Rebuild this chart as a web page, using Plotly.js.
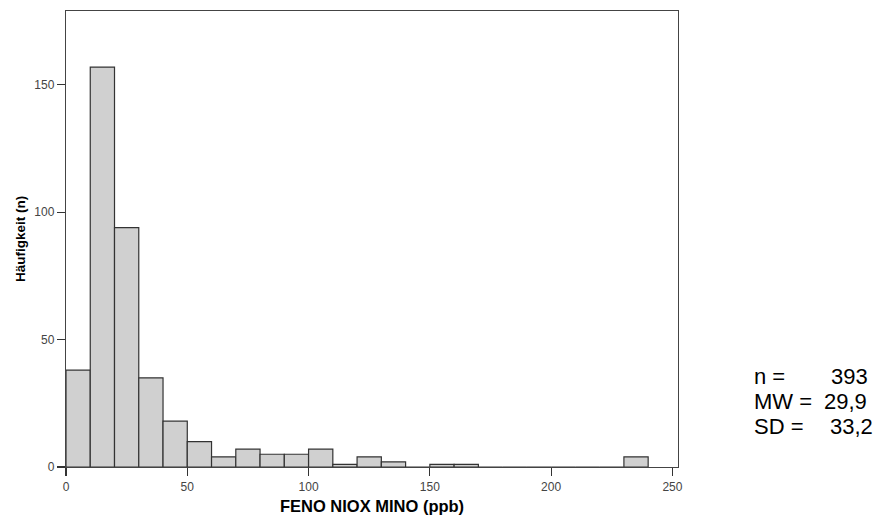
<!DOCTYPE html>
<html>
<head>
<meta charset="utf-8">
<script src="https://cdn.plot.ly/plotly-3.0.1.min.js"></script>
<style>html,body{margin:0;padding:0;background:#fff;}#chart{width:887px;height:519px;}</style>
</head>
<body>
<div id="chart"></div>
<script>
// Histogram bins (ppb), bin width 10
const binStarts = [0,10,20,30,40,50,60,70,80,90,100,110,120,130,140,150,160,170,180,190,200,210,220,230];
const counts    = [38,157,94,35,18,10,4,7,5,5,7,1,4,2,0,1,1,0,0,0,0,0,0,4];
const binWidth = 10;
const xTicks = [0,50,100,150,200,250];
const yTicks = [0,50,100,150];
const statLabels = ["n =", "MW =", "SD ="];
const statValues = ["393", "29,9", "33,2"];

const FONT = 'Liberation Sans, Arial, sans-serif';

const trace = {
  type: 'bar',
  x: binStarts,
  y: counts,
  width: binStarts.map(() => binWidth),
  offset: 0,
  marker: {color: '#d0d0d0', line: {color: '#333333', width: 1.2}},
  hoverinfo: 'x+y'
};

// stats block position (paper coords)
const statLabelX = 1.121;
const statValueX = [1.2467, 1.2353, 1.245];
const statTopY = 0.199;
const statStep = 0.0555;

const annotations = [];
statLabels.forEach((lab, i) => {
  annotations.push({
    xref: 'paper', yref: 'paper',
    x: statLabelX, y: statTopY - i*statStep,
    xanchor: 'left', yanchor: 'middle',
    text: lab, showarrow: false,
    font: {family: FONT, size: 22, color: '#000'}
  });
  annotations.push({
    xref: 'paper', yref: 'paper',
    x: statValueX[i], y: statTopY - i*statStep,
    xanchor: 'left', yanchor: 'middle',
    text: statValues[i], showarrow: false,
    font: {family: FONT, size: 22, color: '#000'}
  });
});

const layout = {
  width: 887, height: 519,
  margin: {l: 66, r: 209, t: 11, b: 52},
  paper_bgcolor: '#fff', plot_bgcolor: '#fff',
  showlegend: false,
  bargap: 0,
  xaxis: {
    range: [0, 252.3],
    tickvals: xTicks,
    ticks: 'outside', ticklen: 8, tickcolor: '#333', tickwidth: 1.2,
    showline: true, linecolor: '#444', linewidth: 1.2, mirror: true,
    showgrid: false, zeroline: false,
    tickfont: {family: FONT, size: 12, color: '#444'},
    title: {text: '<b>FENO NIOX MINO (ppb)</b>', standoff: 7,
      font: {family: FONT, size: 16.5, color: '#000'}}
  },
  yaxis: {
    range: [0, 179],
    tickvals: yTicks,
    ticks: 'outside', ticklen: 8, tickcolor: '#333', tickwidth: 1.2,
    showline: true, linecolor: '#444', linewidth: 1.2, mirror: true,
    showgrid: false, zeroline: false,
    tickfont: {family: FONT, size: 12, color: '#444'},
    title: {text: '<b>Häufigkeit (n)</b>', standoff: 5,
      font: {family: FONT, size: 13.5, color: '#000'}}
  },
  annotations: annotations
};

Plotly.newPlot('chart', [trace], layout, {displayModeBar: false, staticPlot: true});
</script>
</body>
</html>
